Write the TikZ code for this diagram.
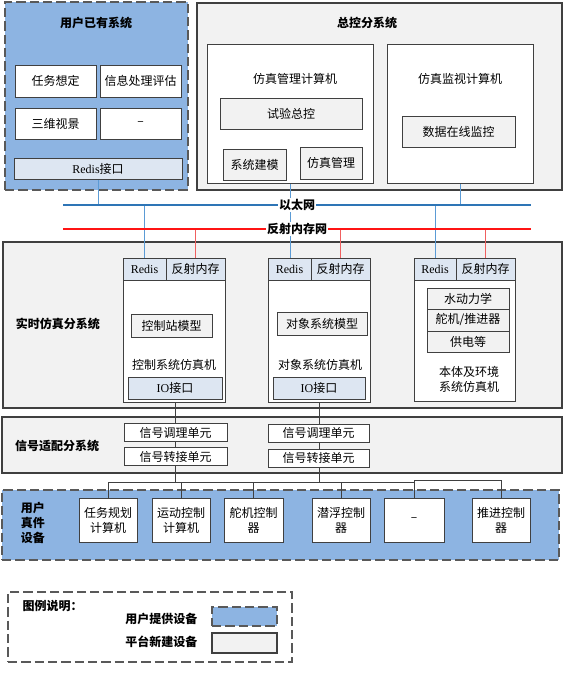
\documentclass[tikz,border=0pt]{standalone}
\usepackage{fontspec}
\setmainfont{Noto Sans CJK SC}
\newfontfamily\lat{Liberation Serif}
\pgfdeclarelayer{back}
\pgfdeclarelayer{mid}
\pgfsetlayers{back,mid,main}
\definecolor{ublue}{RGB}{141,180,226}
\definecolor{lblue}{RGB}{221,230,242}
\definecolor{gfill}{RGB}{242,242,242}
\definecolor{edgec}{RGB}{64,64,64}
\definecolor{dashc}{RGB}{89,89,89}
\definecolor{ethc}{RGB}{46,117,182}
\definecolor{ethd}{RGB}{91,155,213}
\definecolor{rmc}{RGB}{255,20,20}
\definecolor{rmd}{RGB}{240,96,96}
\newcommand\fs{\fontsize{9}{11.3}\selectfont}
\tikzset{
  wh/.style 2 args={minimum width=#1*0.75pt, minimum height=#2*0.75pt},
  bnode/.style={rectangle, inner sep=0pt, outer sep=0pt, font=\fs, align=center},
  wbox/.style={bnode, draw=edgec, fill=white, line width=0.7pt},
  gbox/.style={wbox, fill=gfill},
  lbbox/.style={wbox, fill=lblue},
  sysbox/.style={bnode, draw=edgec, fill=gfill, line width=1.1pt},
  userbox/.style={bnode, draw=dashc, fill=ublue, dash pattern=on 7pt off 3pt, line width=1pt},
  ttl/.style={font=\fs\bfseries, inner sep=1pt, align=center},
  txt/.style={font=\fs, inner sep=1pt, align=center},
  wire/.style={draw=edgec, line width=0.6pt},
  ethbus/.style={draw=ethc, line width=1.3pt},
  ethdrop/.style={draw=ethd, line width=0.7pt},
  rmbus/.style={draw=rmc, line width=1.3pt},
  rmdrop/.style={draw=rmd, line width=0.7pt},
}
\begin{document}
\begin{tikzpicture}[x=0.75pt, y=-0.75pt]
\useasboundingbox (0,0) rectangle (564,682);

% containers
\begin{pgfonlayer}{back}
\node[userbox, wh={183}{188}] (usr) at (96.5,96) {};
\node[sysbox, wh={365}{187}] (zk) at (379.5,96.5) {};
\node[sysbox, wh={559}{166}] (ss) at (282.5,325) {};
\node[sysbox, wh={560}{56}] (xh) at (282,445) {};
\node[userbox, wh={557}{70}] (yh) at (280.5,525) {};
\node[bnode, draw=dashc, dash pattern=on 7pt off 3pt, line width=0.8pt, wh={284}{70}] (lg) at (150,627) {};
\end{pgfonlayer}

% user existing system
\node[ttl] (tU) at (96,23) {用户已有系统};
\node[wbox, wh={81}{32}] (rwxd) at (55.5,81) {任务想定};
\node[wbox, wh={81}{32}] (xxcl) at (140.5,81) {信息处理评估};
\node[wbox, wh={81}{31}] (swsj) at (55.5,123.5) {三维视景};
\node[wbox, wh={81}{31}] (uDash) at (140.5,123.5) {–};
\node[lbbox, wh={168}{21}] (uRedis) at (98,168.5) {{\lat Redis}接口};

% master control
\node[ttl] (tZ) at (367,23) {总控分系统};
\node[wbox, wh={166}{139}] (glj) at (290,113.5) {};
\node[txt] (tGlj) at (295,79) {仿真管理计算机};
\node[gbox, wh={142}{31}] (syzk) at (291,113.5) {试验总控};
\node[gbox, wh={63}{31}] (xtjm) at (254.5,164.5) {系统建模};
\node[gbox, wh={62}{32}] (fzgl) at (331,163) {仿真管理};
\node[wbox, wh={146}{139}] (jsj) at (460,113.5) {};
\node[txt] (tJsj) at (460,79) {仿真监视计算机};
\node[gbox, wh={113}{31}] (sjzx) at (458.5,131.5) {数据在线监控};

% realtime simulation
\node[ttl] (tSS) at (58,324) {实时仿真分系统};
\node[wbox, wh={102}{144}] (kz) at (174,330) {};
\node[lbbox, wh={43}{22}] (kzR) at (144.5,269) {\lat Redis};
\node[lbbox, wh={59}{22}] (kzF) at (195.5,269) {反射内存};
\node[gbox, wh={81}{23}] (kzM) at (171.5,325.5) {控制站模型};
\node[txt] (tKz) at (174,365) {控制系统仿真机};
\node[lbbox, wh={94}{22}] (kzIO) at (175,388) {{\lat IO}接口};

\node[wbox, wh={102}{144}] (dx) at (319,330) {};
\node[lbbox, wh={43}{22}] (dxR) at (289.5,269) {\lat Redis};
\node[lbbox, wh={59}{22}] (dxF) at (340.5,269) {反射内存};
\node[gbox, wh={90}{23}] (dxM) at (322,323.5) {对象系统模型};
\node[txt] (tDx) at (320,365) {对象系统仿真机};
\node[lbbox, wh={92}{22}] (dxIO) at (319,388) {{\lat IO}接口};

\node[wbox, wh={101}{143}] (bt) at (464.5,329.5) {};
\node[lbbox, wh={42}{22}] (btR) at (435,269) {\lat Redis};
\node[lbbox, wh={59}{22}] (btF) at (485.5,269) {反射内存};
\node[gbox, wh={82}{21}] (sdl) at (468,298.5) {水动力学};
\node[gbox, wh={82}{22}] (djt) at (468,320) {舵机/推进器};
\node[gbox, wh={82}{21}] (gdd) at (468,341.5) {供电等};
\node[txt] (tBt) at (469,379.5) {本体及环境\\系统仿真机};

% signal adaptation
\node[ttl] (tXH) at (57,446) {信号适配分系统};
\node[wbox, wh={103}{18}] (tl1) at (175.5,432.5) {信号调理单元};
\node[wbox, wh={103}{18}] (zj1) at (175.5,456.5) {信号转接单元};
\node[wbox, wh={101}{18}] (tl2) at (318.5,433) {信号调理单元};
\node[wbox, wh={101}{18}] (zj2) at (318.5,458) {信号转接单元};

% user real devices
\node[ttl] (tYH) at (33,523) {用户\\真件\\设备};
\node[wbox, wh={58}{44}] (d1) at (108,520) {任务规划\\计算机};
\node[wbox, wh={58}{44}] (d2) at (181,520) {运动控制\\计算机};
\node[wbox, wh={59}{44}] (d3) at (253.5,520) {舵机控制\\器};
\node[wbox, wh={58}{44}] (d4) at (341,520) {潜浮控制\\器};
\node[wbox, wh={60}{44}] (d5) at (414,520) {–};
\node[wbox, wh={58}{44}] (d6) at (501,520) {推进控制\\器};

% legend
\node[ttl, anchor=west] (tLg) at (21,606) {图例说明：};
\node[ttl, anchor=east] (tL1) at (199,619) {用户提供设备};
\node[userbox, wh={65}{19}] (sw1) at (244.5,616.5) {};
\node[ttl, anchor=east] (tL2) at (199,642) {平台新建设备};
\node[sysbox, wh={65}{20}] (sw2) at (244.5,643) {};

% networks
\coordinate (ethL) at (63,205);
\coordinate (ethR) at (531,205);
\coordinate (rmL) at (63,229);
\coordinate (rmR) at (531,229);
\coordinate (busA) at (0,482);
\coordinate (busB) at (0,480.5);

\begin{pgfonlayer}{mid}
\draw[ethdrop] (uRedis.south) -- (uRedis.south |- ethL);
\draw[ethdrop] (glj.south) -- (glj.south |- dxR.north);
\draw[ethdrop] (jsj.south) -- (jsj.south |- ethL);
\draw[ethdrop] (kzR.north |- ethL) -- (kzR.north);
\draw[ethdrop] (btR.north |- ethL) -- (btR.north);
\draw[rmdrop] (kzF.north |- rmL) -- (kzF.north);
\draw[rmdrop] (dxF.north |- rmL) -- (dxF.north);
\draw[rmdrop] (btF.north |- rmL) -- (btF.north);
\draw[ethbus] (ethL) -- (ethR);
\draw[rmbus] (rmL) -- (rmR);
\draw[wire] (kzIO.south) -- (kzIO.south |- busA);
\draw[wire] (dxIO.south) -- (dxIO.south |- busA);
\draw[wire] (d1.north) -- (d1.north |- busA) -- (d5.north |- busA);
\foreach \d in {d2,d3,d4} \draw[wire] (\d.north) -- (\d.north |- busA);
\draw[wire] (d5.north) -- (d5.north |- busB) -- (d6.north |- busB) -- (d6.north);
\end{pgfonlayer}

\node[ttl, fill=white] (lEth) at (297,205) {以太网};
\node[ttl, fill=white] (lRm) at (297,229) {反射内存网};
\end{tikzpicture}
\end{document}
